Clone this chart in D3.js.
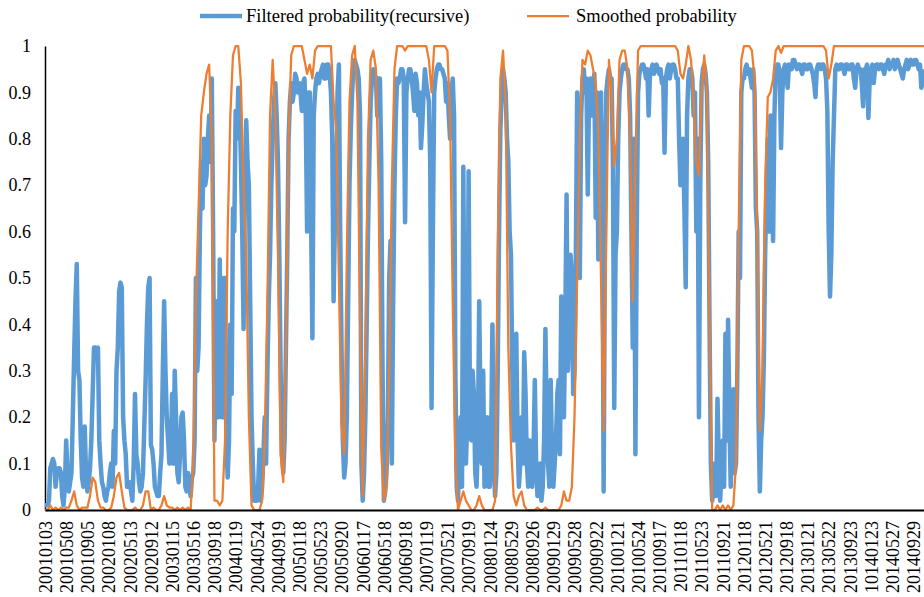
<!DOCTYPE html>
<html>
<head>
<meta charset="utf-8">
<script src="https://cdn.jsdelivr.net/npm/d3@7"></script>
<style>
  body { margin: 0; background: #fff; }
  svg { display: block; font-family: "Liberation Serif", "Times New Roman", serif; }
</style>
</head>
<body>
<div id="chart"></div>
<script>
// size of the picture and of the plot box
const width = 924;
const height = 597;
const margin = {left: 45, right: 0, top: 46, bottom: 87};

// category labels, shown once per label step
const tickLabels = [
  "20010103","20010508","20010905","20020108","20020513","20020912","20030115","20030516",
  "20030918","20040119","20040524","20040919","20050118","20050523","20050920","20060117",
  "20060518","20060918","20070119","20070521","20070919","20080124","20080529","20080926",
  "20090129","20090528","20090922","20100121","20100524","20100917","20110118","20110523",
  "20110921","20120118","20120521","20120918","20130121","20130522","20130923","10140123",
  "20140527","20140929"
];
// the axis runs on past the last label by about half a step
const lastPosition = 41.5;

const yTicks = [0, 0.1, 0.2, 0.3, 0.4, 0.5, 0.6, 0.7, 0.8, 0.9, 1];

// Filtered probability(recursive), 16 readings per label step
const filteredPerLabel = 16;
const filtered = [
  0.01,0.01,0.01,0.02,0.09,0.10,0.11,0.10,0.05,0.08,0.09,0.09,0.08,0.03,0.01,0.05,
  0.15,0.08,0.04,0.06,0.08,0.20,0.33,0.45,0.53,0.30,0.28,0.15,0.07,0.05,0.18,0.08,
  0.04,0.06,0.09,0.15,0.25,0.35,0.35,0.34,0.35,0.15,0.10,0.06,0.05,0.03,0.02,0.04,
  0.05,0.08,0.10,0.05,0.17,0.10,0.30,0.35,0.47,0.49,0.48,0.20,0.15,0.12,0.05,0.06,
  0.06,0.04,0.02,0.10,0.25,0.12,0.10,0.06,0.04,0.05,0.08,0.18,0.28,0.40,0.48,0.50,
  0.14,0.13,0.10,0.05,0.04,0.03,0.03,0.08,0.12,0.30,0.45,0.30,0.20,0.15,0.10,0.12,
  0.25,0.10,0.30,0.20,0.08,0.06,0.12,0.20,0.21,0.15,0.05,0.04,0.08,0.05,0.03,0.07,
  0.08,0.15,0.50,0.30,0.35,0.60,0.75,0.65,0.80,0.70,0.72,0.80,0.85,0.75,0.93,0.60,
  0.15,0.35,0.45,0.20,0.54,0.30,0.20,0.50,0.50,0.15,0.07,0.15,0.40,0.25,0.65,0.60,
  0.86,0.80,0.91,0.88,0.75,0.60,0.39,0.70,0.84,0.75,0.70,0.45,0.20,0.10,0.02,0.05,
  0.02,0.05,0.13,0.02,0.05,0.12,0.20,0.10,0.30,0.45,0.55,0.70,0.80,0.88,0.92,0.85,
  0.75,0.55,0.30,0.12,0.08,0.15,0.35,0.55,0.80,0.88,0.92,0.88,0.90,0.94,0.93,0.90,
  0.92,0.90,0.86,0.92,0.93,0.85,0.60,0.90,0.90,0.63,0.37,0.85,0.90,0.93,0.94,0.92,
  0.94,0.95,0.96,0.93,0.93,0.96,0.96,0.94,0.90,0.80,0.45,0.62,0.70,0.90,0.96,0.60,
  0.35,0.15,0.07,0.10,0.20,0.45,0.70,0.82,0.90,0.95,0.97,0.96,0.95,0.93,0.85,0.10,
  0.02,0.08,0.20,0.40,0.60,0.75,0.88,0.93,0.95,0.94,0.93,0.85,0.93,0.93,0.75,0.30,
  0.02,0.04,0.08,0.20,0.50,0.58,0.10,0.45,0.70,0.85,0.93,0.92,0.93,0.95,0.95,0.93,
  0.62,0.90,0.93,0.95,0.95,0.93,0.90,0.86,0.94,0.92,0.85,0.90,0.78,0.83,0.90,0.95,
  0.92,0.90,0.88,0.75,0.22,0.60,0.90,0.93,0.95,0.96,0.96,0.95,0.95,0.94,0.93,0.88,
  0.92,0.85,0.80,0.90,0.93,0.85,0.30,0.05,0.02,0.15,0.20,0.05,0.74,0.30,0.10,0.20,
  0.73,0.20,0.15,0.30,0.25,0.08,0.05,0.15,0.45,0.20,0.10,0.30,0.05,0.12,0.20,0.05,
  0.05,0.15,0.40,0.10,0.03,0.08,0.30,0.60,0.82,0.90,0.95,0.93,0.90,0.80,0.75,0.60,
  0.55,0.30,0.15,0.25,0.38,0.15,0.05,0.10,0.20,0.10,0.34,0.25,0.10,0.05,0.15,0.08,
  0.05,0.12,0.28,0.10,0.03,0.08,0.10,0.02,0.05,0.15,0.39,0.20,0.10,0.05,0.28,0.12,
  0.05,0.10,0.15,0.25,0.28,0.12,0.46,0.30,0.20,0.40,0.68,0.30,0.40,0.55,0.50,0.25,
  0.30,0.55,0.90,0.60,0.50,0.85,0.93,0.95,0.90,0.93,0.68,0.90,0.93,0.85,0.92,0.94,
  0.63,0.90,0.54,0.88,0.90,0.70,0.04,0.60,0.90,0.93,0.95,0.93,0.93,0.75,0.22,0.55,
  0.60,0.80,0.90,0.93,0.95,0.96,0.96,0.95,0.95,0.93,0.85,0.60,0.35,0.80,0.12,0.60,
  0.90,0.94,0.95,0.96,0.96,0.95,0.93,0.95,0.85,0.94,0.95,0.96,0.94,0.95,0.96,0.95,
  0.94,0.95,0.92,0.93,0.77,0.93,0.95,0.96,0.93,0.95,0.96,0.96,0.95,0.93,0.93,0.80,
  0.70,0.78,0.80,0.65,0.48,0.85,0.93,0.95,0.95,0.93,0.85,0.90,0.60,0.80,0.20,0.70,
  0.92,0.95,0.96,0.94,0.90,0.75,0.40,0.10,0.02,0.05,0.10,0.03,0.24,0.10,0.02,0.08,
  0.15,0.05,0.38,0.15,0.41,0.20,0.05,0.15,0.26,0.08,0.10,0.30,0.60,0.50,0.90,0.93,
  0.93,0.95,0.96,0.94,0.95,0.93,0.91,0.95,0.90,0.65,0.60,0.20,0.04,0.15,0.20,0.32,
  0.55,0.70,0.80,0.60,0.85,0.75,0.58,0.85,0.95,0.96,0.96,0.94,0.78,0.90,0.95,0.96,
  0.95,0.91,0.96,0.95,0.95,0.97,0.97,0.96,0.95,0.96,0.96,0.95,0.94,0.96,0.96,0.95,
  0.95,0.96,0.96,0.95,0.94,0.92,0.89,0.95,0.96,0.96,0.95,0.96,0.96,0.95,0.93,0.86,
  0.60,0.46,0.55,0.75,0.85,0.95,0.96,0.95,0.95,0.96,0.96,0.95,0.94,0.96,0.96,0.95,
  0.95,0.96,0.96,0.93,0.91,0.95,0.96,0.95,0.95,0.92,0.87,0.95,0.95,0.96,0.845,0.93,
  0.95,0.96,0.92,0.95,0.96,0.96,0.95,0.96,0.96,0.95,0.94,0.96,0.96,0.97,0.95,0.96,
  0.96,0.97,0.95,0.96,0.97,0.96,0.95,0.94,0.93,0.95,0.96,0.97,0.95,0.96,0.97,0.96,
  0.96,0.97,0.97,0.96,0.95,0.96,0.91,0.93,0.95
];

// Smoothed probability, 8 readings per label step
const smoothedPerLabel = 8;
const smoothed = [
  0, 0, 0.01, 0, 0.005, 0, 0.005, 0,
  0.005, 0.005, 0.02, 0.04, 0.01, 0, 0.005, 0.005,
  0.005, 0.03, 0.07, 0.06, 0.02, 0.005, 0.005, 0,
  0, 0.005, 0.03, 0.07, 0.08, 0.04, 0.005, 0,
  0, 0, 0.005, 0, 0, 0.01, 0.04, 0.04,
  0, 0.005, 0, 0, 0.01, 0.03, 0.01, 0.005,
  0.005, 0, 0.005, 0, 0.005, 0, 0.005, 0,
  0.1, 0.45, 0.65, 0.85, 0.9, 0.94, 0.96, 0.8,
  0.02, 0.02, 0.01, 0.02, 0.15, 0.6, 0.85, 0.98,
  1, 1, 0.92, 0.7, 0.55, 0.2, 0.01, 0,
  0, 0, 0.02, 0.15, 0.45, 0.85, 0.97, 0.85,
  0.55, 0.12, 0.06, 0.35, 0.8, 0.98, 1, 1,
  1, 1, 0.97, 0.94, 0.96, 0.93, 0.99, 1,
  1, 1, 1, 1, 1, 0.88, 0.82, 0.5,
  0.18, 0.12, 0.55, 0.88, 0.98, 1, 0.88, 0.4,
  0.03, 0.35, 0.8, 0.97, 0.99, 0.95, 0.7, 0.13,
  0.02, 0.05, 0.3, 0.7, 0.95, 1, 1, 1,
  0.99, 1, 1, 1, 1, 1, 1, 1,
  1, 0.97, 0.9, 1, 1, 1, 1, 1,
  0.99, 0.85, 0.45, 0.1, 0, 0.02, 0.04, 0.02,
  0.01, 0, 0, 0.01, 0.03, 0.01, 0, 0,
  0, 0, 0.02, 0.55, 0.93, 0.99, 0.88, 0.35,
  0.14, 0.03, 0.01, 0.03, 0.04, 0.01, 0, 0,
  0, 0, 0.005, 0, 0, 0.005, 0, 0,
  0, 0, 0, 0.01, 0.04, 0.02, 0.02, 0.05,
  0.2, 0.5, 0.8, 0.97, 0.96, 0.99, 0.98, 0.95,
  0.92, 0.82, 0.5, 0.17, 0.6, 0.97, 0.9, 0.74,
  0.8, 0.97, 0.99, 0.99, 0.95, 0.8, 0.45, 0.75,
  0.99, 1, 1, 1, 1, 1, 1, 1,
  1, 1, 1, 1, 1, 1, 1, 0.99,
  0.94, 0.93, 0.96, 1, 0.97, 0.88, 0.75, 0.72,
  0.9, 0.98, 0.9, 0.4, 0, 0, 0.01, 0,
  0.01, 0, 0.01, 0, 0.01, 0.1, 0.6, 0.97,
  1, 1, 1, 0.99, 0.93, 0.6, 0.17, 0.3,
  0.7, 0.89, 0.9, 0.93, 0.99, 1, 0.985, 1,
  1, 1, 1, 1, 1, 1, 1, 1,
  1, 1, 1, 1, 1, 1, 1, 0.99,
  0.93, 0.96, 1, 1, 1, 1, 1, 1,
  1, 1, 1, 1, 1, 1, 1, 1,
  1, 1, 1, 1, 1, 1, 1, 1,
  1, 1, 1, 1, 1, 1, 1, 1,
  1, 1, 1, 1, 1
];

const seriesNames = ["Filtered probability(recursive)", "Smoothed probability"];
const colors = ["#5B9BD5", "#ED7D31"];

const svg = d3.select("#chart")
  .append("svg")
  .attr("width", width)
  .attr("height", height);

svg.append("rect").attr("width", width).attr("height", height).attr("fill", "#fff");

// x runs in label steps: label k sits at k
const x = d3.scaleLinear()
  .domain([0, lastPosition])
  .range([margin.left, width - margin.right]);

const y = d3.scaleLinear()
  .domain([0, 1])
  .range([height - margin.bottom, margin.top]);

const lineFor = perLabel => d3.line()
  .x((d, i) => x(i / perLabel))
  .y(d => y(d));

// y axis
const yAxis = svg.append("g")
  .attr("transform", `translate(${margin.left},0)`)
  .call(d3.axisLeft(y)
    .tickValues(yTicks)
    .tickFormat(d3.format("~g"))
    .tickSize(0)
    .tickPadding(14));
yAxis.select(".domain").attr("stroke", "#000").attr("stroke-width", 1.5);
yAxis.selectAll("text")
  .attr("font-size", "18px")
  .attr("fill", "#000")
  .attr("font-family", "Liberation Serif, Times New Roman, serif");

// the two series, smoothed drawn on top
svg.append("path")
  .datum(filtered)
  .attr("fill", "none")
  .attr("stroke", colors[0])
  .attr("stroke-width", 4.5)
  .attr("stroke-linejoin", "round")
  .attr("d", lineFor(filteredPerLabel));

svg.append("path")
  .datum(smoothed)
  .attr("fill", "none")
  .attr("stroke", colors[1])
  .attr("stroke-width", 2.25)
  .attr("stroke-linejoin", "round")
  .attr("d", lineFor(smoothedPerLabel));

// x axis with rotated date labels
const xAxis = svg.append("g")
  .attr("transform", `translate(0,${y(0)})`)
  .call(d3.axisBottom(x)
    .tickValues(tickLabels.map((d, i) => i))
    .tickFormat(i => tickLabels[i])
    .tickSize(0));
xAxis.select(".domain").attr("stroke", "#000").attr("stroke-width", 2);
xAxis.selectAll("text")
  .attr("transform", "rotate(-90)")
  .attr("x", -11)
  .attr("y", 0)
  .attr("dy", "0.35em")
  .attr("text-anchor", "end")
  .attr("font-size", "18px")
  .attr("fill", "#000")
  .attr("font-family", "Liberation Serif, Times New Roman, serif");

// legend
const legendX = [200, 527];
const legend = svg.append("g");
seriesNames.forEach((name, i) => {
  legend.append("line")
    .attr("x1", legendX[i]).attr("x2", legendX[i] + 42)
    .attr("y1", 16).attr("y2", 16)
    .attr("stroke", colors[i])
    .attr("stroke-width", i === 0 ? 4.5 : 2.25);
  legend.append("text")
    .attr("x", legendX[i] + (i === 0 ? 46 : 49))
    .attr("y", 16)
    .attr("dy", "0.35em")
    .attr("font-size", "18.5px")
    .attr("fill", "#000")
    .text(name);
});
</script>
</body>
</html>
